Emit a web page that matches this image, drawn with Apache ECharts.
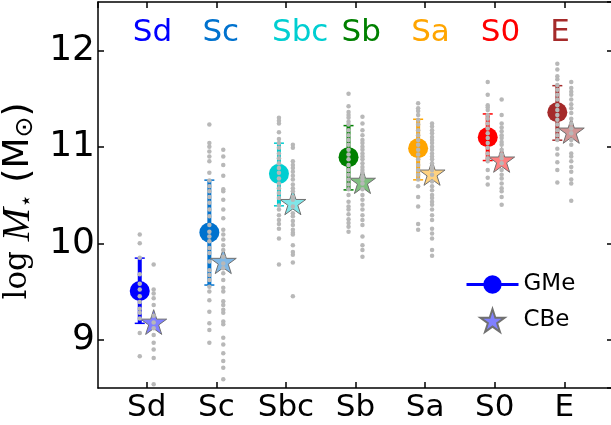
<!DOCTYPE html>
<html>
<head>
<meta charset="utf-8">
<script src="https://cdn.jsdelivr.net/npm/echarts@6/dist/echarts.min.js"></script>
<style>
html,body{margin:0;padding:0;background:#fff;}
#chart{width:611px;height:425px;}
</style>
</head>
<body>
<div id="chart"></div>
<script>
// ---------- data ----------
const categories = ['Sd', 'Sc', 'Sbc', 'Sb', 'Sa', 'S0', 'E'];
const yTicks = [9, 10, 11, 12];
const gmeValues = [9.505, 10.111, 10.719, 10.892, 10.985, 11.099, 11.358];
const gmeLow    = [9.17, 9.567, 10.388, 10.553, 10.657, 10.857, 11.068];
const gmeHigh   = [9.846, 10.654, 11.037, 11.219, 11.285, 11.34, 11.633];
const cbeValues = [9.17, 9.80, 10.41, 10.63, 10.715, 10.85, 11.15];

const gmeGalaxies = [
  [10.09, 10.00, 9.85, 9.68, 9.58, 9.52, 9.45, 9.39, 9.32, 9.28, 9.22, 9.07, 8.83],
  [11.23, 11.04, 11.00, 10.95, 10.90, 10.85, 10.73, 10.65, 10.59, 10.54, 10.48, 10.42, 10.35, 10.28, 10.19, 10.12, 10.07, 10.02, 9.95, 9.90, 9.81, 9.72, 9.67, 9.62, 9.55, 9.50, 9.41, 9.29, 9.17, 9.10, 8.97],
  [11.30, 11.27, 11.24, 11.15, 11.08, 11.04, 10.99, 10.93, 10.88, 10.83, 10.78, 10.73, 10.67, 10.62, 10.57, 10.52, 10.47, 10.39, 10.35, 10.29, 10.24, 10.20, 10.15, 10.05, 9.78],
  [11.55, 11.42, 11.36, 11.33, 11.30, 11.26, 11.23, 11.17, 11.12, 11.07, 11.02, 10.97, 10.92, 10.87, 10.81, 10.76, 10.71, 10.66, 10.61, 10.56, 10.50, 10.43, 10.38, 10.35, 10.30, 10.25, 10.21, 10.17, 10.12],
  [11.45, 11.40, 11.37, 11.33, 11.28, 11.23, 11.17, 11.12, 11.07, 11.02, 10.97, 10.92, 10.87, 10.81, 10.76, 10.71, 10.66, 10.59, 10.48, 10.38, 10.20, 10.14],
  [11.67, 11.54, 11.43, 11.41, 11.38, 11.33, 11.29, 11.24, 11.19, 11.14, 11.09, 11.04, 10.99, 10.93, 10.88, 10.85, 10.76, 10.68, 10.61],
  [11.86, 11.80, 11.73, 11.70, 11.64, 11.59, 11.54, 11.49, 11.43, 11.38, 11.33, 11.28, 11.23, 11.17, 11.12, 11.07, 10.98, 10.92, 10.84, 10.76, 10.63]
];
const cbeGalaxies = [
  [9.78, 9.52, 9.48, 9.43, 9.36, 9.25, 9.18, 9.12, 9.05, 8.97, 8.90, 8.81, 8.54],
  [10.97, 10.90, 10.81, 10.70, 10.56, 10.54, 10.45, 10.35, 10.26, 10.14, 10.09, 10.04, 9.98, 9.93, 9.86, 9.79, 9.74, 9.69, 9.62, 9.54, 9.50, 9.40, 9.36, 9.31, 9.28, 9.19, 9.16, 9.02, 8.95, 8.86, 8.78, 8.71, 8.59],
  [11.02, 10.99, 10.85, 10.81, 10.78, 10.74, 10.70, 10.66, 10.61, 10.57, 10.54, 10.48, 10.45, 10.38, 10.31, 10.28, 10.23, 10.19, 10.14, 10.11, 10.09, 9.98, 9.91, 9.88, 9.80, 9.45],
  [11.31, 11.24, 11.17, 11.12, 11.07, 11.04, 11.00, 10.97, 10.93, 10.90, 10.87, 10.83, 10.79, 10.76, 10.73, 10.69, 10.66, 10.62, 10.56, 10.50, 10.45, 10.40, 10.35, 10.29, 10.24, 10.19, 10.07, 9.98, 9.93, 9.86],
  [11.24, 11.21, 11.17, 11.14, 11.10, 11.07, 11.04, 11.00, 10.97, 10.93, 10.90, 10.87, 10.83, 10.79, 10.76, 10.71, 10.64, 10.59, 10.55, 10.50, 10.47, 10.43, 10.40, 10.35, 10.29, 10.24, 10.15, 10.10, 10.05, 9.93, 9.87],
  [11.49, 11.33, 11.24, 11.20, 11.16, 11.12, 11.09, 11.05, 11.02, 10.97, 10.92, 10.88, 10.83, 10.76, 10.71, 10.67, 10.62, 10.57, 10.54, 10.48, 10.40],
  [11.67, 11.61, 11.57, 11.54, 11.49, 11.44, 11.40, 11.35, 11.29, 11.24, 11.19, 11.14, 11.07, 11.02, 10.93, 10.90, 10.85, 10.79, 10.74, 10.66, 10.62, 10.44]
];

// ---------- styling / layout ----------
const catColors  = ['#0000ff', '#0072ce', '#00ced1', '#008000', '#ffa500', '#ff0000', '#a52a2a'];
const starColors = ['#8080ff', '#80b8e6', '#80e6e8', '#80bf80', '#ffd280', '#ff8080', '#d29595'];
const dotColor = '#b8b8b8';
const gmeShift = -0.1, cbeShift = 0.1, headShift = -0.2, headY = 12.18;
const SANS = 'DejaVu Sans';
const STAR = 'path://M0,-100 L22.45,-30.9 L95.11,-30.9 L36.33,11.8 L58.78,80.9 L0,38.2 L-58.78,80.9 L-36.33,11.8 L-95.11,-30.9 L-22.45,-30.9 Z';

const xMin = -0.7, xMax = 6.7, yMin = 8.5, yMax = 12.5;

const gmePoints = gmeValues.map((v, i) => ({value: [i + gmeShift, v], itemStyle: {color: catColors[i]}}));
const cbePoints = cbeValues.map((v, i) => ({value: [i + cbeShift, v], itemStyle: {color: starColors[i]}}));
const errData = categories.map((c, i) => [i + gmeShift, gmeLow[i], gmeHigh[i]]);
const gmeDots = [], cbeDots = [];
gmeGalaxies.forEach((arr, i) => arr.forEach(v => gmeDots.push([i + gmeShift, v])));
cbeGalaxies.forEach((arr, i) => arr.forEach(v => cbeDots.push([i + cbeShift, v])));
const heads = categories.map((c, i) => ({value: [i + headShift, headY], label: {color: catColors[i]}}));

const axisCommon = {
  axisLine: {show: true, onZero: false, lineStyle: {color: '#000', width: 1.5}},
  axisTick: {show: true, inside: true, length: 6, lineStyle: {color: '#000', width: 1.5}},
  splitLine: {show: false}
};

const chart = echarts.init(document.getElementById('chart'), null, {renderer: 'canvas'});
chart.setOption({
  animation: false,
  backgroundColor: '#fff',
  grid: {left: 98, top: 2, width: 515, height: 386, containLabel: false, outerBoundsMode: 'none'},
  xAxis: [
    Object.assign({type: 'value', position: 'bottom', min: xMin, max: xMax, minInterval: 1, maxInterval: 1,
      axisLabel: {show: true, margin: 4, fontFamily: SANS, fontSize: 31, color: '#000',
        showMinLabel: false, showMaxLabel: false,
        formatter: v => (Number.isInteger(v) && categories[v]) ? categories[v] : ''}}, axisCommon),
    Object.assign({type: 'value', position: 'top', min: xMin, max: xMax, minInterval: 1, maxInterval: 1,
      axisLabel: {show: false}}, axisCommon)
  ],
  yAxis: [
    Object.assign({type: 'value', position: 'left', min: yMin, max: yMax, minInterval: 1, maxInterval: 1,
      axisLabel: {show: true, margin: 3, fontFamily: SANS, fontSize: 36, color: '#000',
        showMinLabel: false, showMaxLabel: false,
        formatter: v => yTicks.includes(v) ? String(v) : ''},
      name: '{a|log }{b|M}{c|⋆}{d| (M}{e|⊙}{d|)}',
      nameLocation: 'middle', nameRotate: 90, nameGap: 46,
      nameTextStyle: {
        padding: [0, 12, 0, 0],
        rich: {
          a: {fontFamily: 'DejaVu Serif', fontSize: 31, color: '#000', lineHeight: 40, verticalAlign: 'middle'},
          b: {fontFamily: 'Liberation Serif', fontStyle: 'italic', fontSize: 40, color: '#000', lineHeight: 40, verticalAlign: 'middle'},
          c: {fontFamily: SANS, fontSize: 22, color: '#000', lineHeight: 40, verticalAlign: 'bottom'},
          d: {fontFamily: SANS, fontSize: 36, color: '#000', lineHeight: 40, verticalAlign: 'middle'},
          e: {fontFamily: SANS, fontSize: 25, color: '#000', lineHeight: 40, verticalAlign: 'bottom'}
        }
      }}, axisCommon),
    Object.assign({type: 'value', position: 'right', min: yMin, max: yMax, minInterval: 1, maxInterval: 1,
      axisLabel: {show: false}}, axisCommon)
  ],
  legend: {
    orient: 'vertical', left: 465, top: 273, itemWidth: 52, itemHeight: 23, itemGap: 12,
    padding: 0, selectedMode: false,
    data: [{name: 'GMe', lineStyle: {width: 3, color: '#0000ff', opacity: 1}}, {name: 'CBe'}],
    textStyle: {fontFamily: SANS, fontSize: 23, color: '#000'}
  },
  series: [
    {
      type: 'custom', name: 'err', z: 2, silent: true,
      encode: {x: 0, y: [1, 2]},
      data: errData,
      renderItem: function (params, api) {
        const x = api.value(0), lo = api.value(1), hi = api.value(2);
        const t = api.coord([x, hi]), b = api.coord([x, lo]);
        const c = catColors[params.dataIndex], cw = 5;
        return {type: 'group', children: [
          {type: 'line', shape: {x1: t[0], y1: t[1], x2: b[0], y2: b[1]}, style: {stroke: c, lineWidth: 4}},
          {type: 'line', shape: {x1: t[0] - cw, y1: t[1], x2: t[0] + cw, y2: t[1]}, style: {stroke: c, lineWidth: 1.5}},
          {type: 'line', shape: {x1: b[0] - cw, y1: b[1], x2: b[0] + cw, y2: b[1]}, style: {stroke: c, lineWidth: 1.5}}
        ]};
      }
    },
    {
      type: 'line', name: 'GMe', z: 3, silent: true,
      data: gmePoints, symbol: 'circle', symbolSize: 20, showSymbol: true,
      lineStyle: {width: 0, color: '#0000ff'},
      itemStyle: {color: '#0000ff', opacity: 1}
    },
    {
      type: 'scatter', name: 'CBe', z: 4, silent: true,
      data: cbePoints, symbol: STAR, symbolSize: 26, symbolKeepAspect: true, symbolOffset: [0, '-5%'],
      itemStyle: {color: '#8080ff', borderColor: '#707070', borderWidth: 1, opacity: 1}
    },
    {
      type: 'scatter', name: 'gmeDots', z: 5, silent: true,
      data: gmeDots, symbol: 'circle', symbolSize: 4.5,
      itemStyle: {color: dotColor, opacity: 1}
    },
    {
      type: 'scatter', name: 'cbeDots', z: 5, silent: true,
      data: cbeDots, symbol: 'circle', symbolSize: 4.5,
      itemStyle: {color: dotColor, opacity: 1}
    },
    {
      type: 'scatter', name: 'heads', z: 6, silent: true,
      data: heads, symbolSize: 0, itemStyle: {opacity: 1},
      label: {show: true, position: 'inside', align: 'left', verticalAlign: 'middle', opacity: 1,
        fontFamily: SANS, fontSize: 31, formatter: p => categories[p.dataIndex]}
    }
  ]
});
</script>
</body>
</html>
